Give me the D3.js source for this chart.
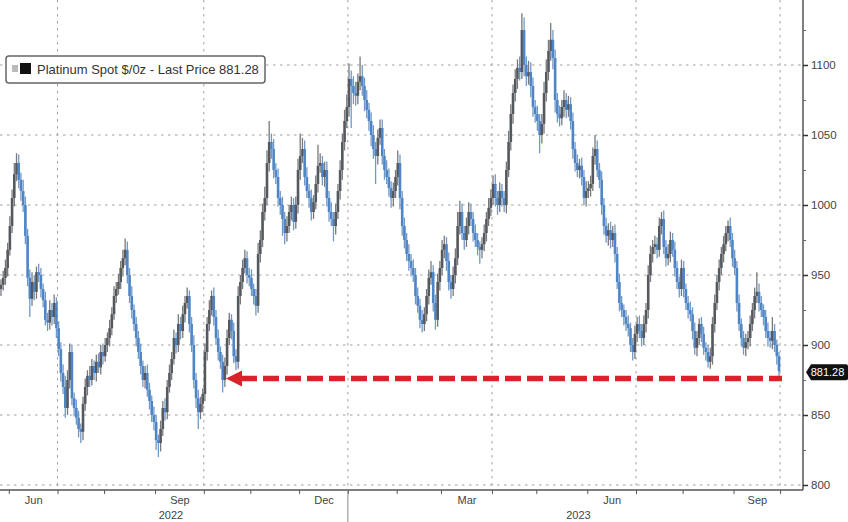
<!DOCTYPE html>
<html>
<head>
<meta charset="utf-8">
<script src="https://cdn.jsdelivr.net/npm/d3@7"></script>
<style>
  html, body { margin: 0; padding: 0; background: #fff; }
  svg { display: block; font-family: "Liberation Sans", Arial, sans-serif; }
</style>
</head>
<body>
<svg id="chart" width="848" height="522"></svg>
<script>
// ---------------- DATA ----------------
const seriesName = "Platinum Spot $/0z - Last Price 881.28";
const lastPrice = 881.28;
const firstOpen = 940;
const markerLevel = 876;          // red dashed arrow level
const markerStart = new Date(2022, 9, 17);
const startDate = new Date(2022, 4, 26);
const endDate = new Date(2023, 8, 29);

// daily closes, trading days from 26 May 2022 to 29 Sep 2023
const closes = [
  943, 948,
  955, 968, 985, 1005, 1022,
  1030, 1018, 1010, 1000, 978,
  948, 933, 945, 938, 952,
  950, 940, 932, 918, 916,
  925, 920, 930, 912, 897,
  880, 870, 855, 875, 895,
  862, 855, 848, 840, 838,
  858, 870, 878, 875, 885,
  880, 888, 884, 895, 892,
  900, 905, 912, 922, 935,
  940, 945, 955, 962, 968,
  950, 935, 925, 915, 905,
  895, 885, 875, 880, 868,
  860, 850, 845, 832, 830,
  840, 855, 852, 870, 880,
  890, 905, 900, 915, 910,
  922, 930, 935, 915, 900,
  875, 862, 852, 858, 865,
  895, 915, 925, 935, 920,
  905, 895, 888, 875, 885,
  905, 918, 910, 892, 888,
  935, 945, 955, 962, 950,
  948, 940, 935, 928, 965,
  975, 995, 1005, 1030, 1045,
  1040, 1025, 1020, 1005, 1000,
  990, 980, 985, 995, 1000,
  988, 1000, 1025, 1035, 1040,
  1020, 1010, 1005, 995, 1002,
  1015, 1028, 1030, 1020, 1025,
  1005, 995, 990, 985, 995,
  1010, 1025, 1045, 1060, 1070,
  1090, 1085, 1080, 1078, 1088,
  1092, 1085, 1075, 1068, 1060,
  1050, 1040, 1035, 1048, 1055,
  1035, 1025, 1020, 1012, 1005,
  1010, 1020, 1030, 1005, 985,
  975, 965, 960, 955, 950,
  935, 928, 918, 915, 922,
  935, 948, 952, 930, 918,
  945, 955, 968, 972, 960,
  945, 940, 950, 962, 985,
  995, 980, 975, 985, 995,
  990, 980, 975, 970, 968,
  972, 980, 990, 998, 1005,
  1015, 1005, 1000, 1010, 1005,
  1000, 1025, 1045, 1065, 1080,
  1090, 1098, 1095, 1125, 1100,
  1092, 1095, 1085, 1070, 1065,
  1060, 1050, 1058, 1080, 1095,
  1110, 1118, 1105, 1075, 1065,
  1062, 1070, 1075, 1068, 1072,
  1060, 1040, 1030, 1025, 1028,
  1020, 1005, 1010, 1012, 1015,
  1035, 1040, 1025, 1018, 1000,
  985, 978, 982, 975, 980,
  965, 945, 930, 925, 920,
  915, 912, 900, 895, 908,
  915, 910, 905, 915, 925,
  950, 965, 970, 972, 968,
  985, 990, 970, 962, 965,
  975, 968, 955, 945, 940,
  955, 940, 930, 925, 922,
  910, 898, 905, 915, 908,
  898, 895, 888, 892, 915,
  930, 945, 955, 965, 972,
  980, 985, 975, 962, 955,
  930, 915, 905, 898, 902,
  905, 915, 925, 935, 938,
  930, 925, 920, 910, 905,
  903, 910, 900, 892, 881.28
];

// wick extension above the body ($)
const upWick = [
  4, 5,
  6, 5, 7, 6, 8,   7, 6, 5, 8, 6,   5, 6, 7, 5, 4,   6, 5, 4, 6, 5,   7, 5, 6, 4, 5,
  5, 6, 8, 7, 6,   5, 4, 6, 5, 4,   5, 6, 4, 7, 5,   4, 5, 6, 5, 6,   5, 4, 6, 5, 7,
  5, 6, 5, 6, 8,   6, 5, 7, 4, 5,   5, 6, 4, 5, 6,   5, 4, 6, 5, 4,   6, 5, 7, 5, 6,
  5, 6, 4, 7, 5,   6, 5, 6, 4, 5,   7, 5, 6, 5, 4,   6, 5, 7, 4, 6,   5, 6, 4, 5, 6,
  6, 5, 4, 6, 5,   7, 5, 6, 6, 5,   5, 6, 4, 5, 8,   7, 6, 8, 9, 15,  6, 7, 5, 6, 5,
  6, 5, 7, 5, 6,   5, 6, 8, 16, 8,  6, 7, 5, 6, 5,   6, 15, 7, 5, 6,  6, 5, 7, 5, 6,
  5, 7, 6, 8, 9,   11, 6, 7, 8, 6,  14, 8, 6, 7, 5,  6, 7, 5, 6, 6,   6, 5, 7, 6, 5,
  6, 5, 9, 6, 5,   6, 5, 7, 5, 6,   5, 6, 5, 7, 5,   5, 6, 8, 5, 6,   6, 5, 7, 6, 5,
  6, 5, 6, 7, 10,  8, 6, 5, 6, 7,   6, 5, 6, 5, 4,   5, 6, 5, 7, 6,   6, 7, 5, 6, 5,
  5, 6, 8, 7, 6,   7, 6, 8, 12, 9,  6, 8, 7, 6, 5,   6, 5, 7, 8, 9,   8, 12, 7, 6, 5,
  6, 5, 7, 5, 6,   5, 6, 5, 6, 5,   6, 5, 7, 5, 6,   6, 10, 6, 5, 6,  5, 6, 5, 6, 5,
  6, 5, 6, 5, 4,   5, 6, 4, 5, 6,   5, 6, 5, 6, 5,   7, 6, 5, 6, 5,   6, 5, 6, 5, 7,
  6, 5, 6, 5, 4,   6, 5, 4, 5, 6,   5, 6, 5, 4, 5,   5, 4, 5, 6, 5,   6, 5, 6, 5, 6,
  5, 4, 6, 5, 6,   5, 6, 4, 5, 6,   5, 6, 5, 6, 14,  6, 5, 4, 5, 6,   5, 10, 5, 4, 3
];

// wick extension below the body ($)
const dnWick = [
  5, 4,
  5, 6, 4, 5, 6,   5, 6, 7, 5, 6,   6, 13, 5, 6, 5,  5, 6, 5, 4, 6,   5, 6, 5, 7, 5,
  6, 5, 7, 5, 6,   5, 6, 5, 6, 8,   6, 5, 6, 5, 4,   5, 6, 4, 5, 6,   4, 5, 6, 5, 4,
  5, 4, 5, 6, 5,   6, 5, 6, 5, 6,   5, 6, 5, 6, 5,   6, 5, 6, 7, 10,  6, 5, 6, 5, 4,
  5, 4, 6, 5, 6,   5, 6, 4, 6, 5,   6, 7, 12, 5, 6,  5, 6, 5, 4, 6,   5, 6, 5, 9, 5,
  6, 5, 6, 5, 6,   5, 6, 5, 4, 6,   6, 5, 6, 7, 5,   6, 5, 6, 5, 6,   7, 6, 5, 6, 7,
  12, 8, 6, 5, 6,  6, 5, 6, 7, 5,   6, 5, 7, 6, 5,   5, 6, 5, 6, 7,   6, 7, 5, 11, 6,
  5, 6, 7, 6, 5,   7, 30, 8, 7, 6,  6, 7, 8, 6, 7,   8, 7, 20, 6, 5,  6, 7, 5, 6, 7,
  6, 5, 6, 8, 7,   6, 5, 7, 6, 5,   6, 5, 6, 6, 5,   5, 6, 5, 6, 7,   5, 6, 5, 6, 7,
  6, 7, 5, 6, 5,   6, 5, 7, 5, 6,   5, 6, 5, 6, 10,  6, 5, 6, 5, 6,   5, 6, 7, 5, 6,
  5, 6, 5, 6, 7,   6, 7, 6, 5, 8,   7, 6, 8, 7, 6,   7, 13, 6, 7, 6,  6, 7, 8, 9, 6,
  6, 5, 7, 6, 5,   6, 7, 6, 5, 6,   6, 5, 6, 5, 6,   5, 6, 5, 6, 7,   6, 5, 7, 6, 5,
  6, 5, 6, 5, 6,   5, 6, 5, 6, 5,   6, 5, 6, 5, 6,   6, 5, 6, 5, 6,   5, 6, 5, 6, 5,
  6, 5, 6, 5, 6,   5, 6, 5, 6, 5,   6, 5, 6, 5, 6,   5, 6, 4, 5, 6,   6, 5, 6, 5, 6,
  5, 6, 5, 6, 5,   6, 5, 6, 5, 6,   5, 6, 5, 6, 5,   6, 5, 6, 5, 6,   5, 6, 5, 6, 5
];

const yTicks = [800, 850, 900, 950, 1000, 1050, 1100];
const yMinorTicks = [825, 875, 925, 975, 1025, 1075, 1125];
const monthLabels = ["Jun", "Sep", "Dec", "Mar", "Jun", "Sep"];
const labelledMonths = [new Date(2022,5,1), new Date(2022,8,1), new Date(2022,11,1),
                        new Date(2023,2,1), new Date(2023,5,1), new Date(2023,8,1)];
const yearLabels = ["2022", "2023"];

// ---------------- LAYOUT ----------------
const W = 848, H = 522;
const axisX = 803, axisY = 490;
const svg = d3.select("#chart");

// trading days (weekdays) — positions on a trading-day index scale
const tradingDays = d3.timeDay.range(startDate, new Date(2023, 9, 20))
  .filter(d => d.getDay() !== 0 && d.getDay() !== 6);
const n = closes.length;
const x = d3.scaleLinear().domain([0, n - 1]).range([1, 779]);
const xDate = d => x(d3.bisectLeft(tradingDays, d) - 0.5);
const y = d3.scaleLinear().domain([800, 1100]).range([485, 65]);

// ---------------- GRID ----------------
const grid = svg.append("g");
grid.selectAll("line.h").data(yTicks).join("line")
  .attr("x1", 0).attr("x2", axisX)
  .attr("y1", d => y(d)).attr("y2", d => y(d))
  .attr("stroke", "#a0a0a0").attr("stroke-width", 1)
  .attr("stroke-dasharray", "2.5,4.5");

const monthStarts = d3.timeMonth.range(new Date(2022,5,1), new Date(2023,10,1));
const quarterStarts = monthStarts.filter(d => d.getMonth() % 3 === 0);
grid.selectAll("line.v").data(quarterStarts).join("line")
  .attr("x1", d => xDate(d)).attr("x2", d => xDate(d))
  .attr("y1", 0).attr("y2", axisY)
  .attr("stroke", "#a0a0a0").attr("stroke-width", 1)
  .attr("stroke-dasharray", "2.5,4.5");

// ---------------- CANDLES ----------------
const bars = closes.map((c, i) => {
  const o = i === 0 ? firstOpen : closes[i - 1];
  return { i, o, c, h: Math.max(o, c) + upWick[i], l: Math.min(o, c) - dnWick[i] };
});
const colUp = "#55585d", colDn = "#4d85c6";
const cg = svg.append("g");
cg.selectAll("line.wick").data(bars).join("line")
  .attr("x1", d => x(d.i)).attr("x2", d => x(d.i))
  .attr("y1", d => y(d.h)).attr("y2", d => y(d.l))
  .attr("stroke", d => d.c >= d.o ? "#77797d" : "#7199c6")
  .attr("stroke-width", 1.3);
cg.selectAll("rect.body").data(bars).join("rect")
  .attr("x", d => x(d.i) - 1.3).attr("width", 2.6)
  .attr("y", d => y(Math.max(d.o, d.c)))
  .attr("height", d => Math.max(1, Math.abs(y(d.o) - y(d.c))))
  .attr("fill", d => d.c >= d.o ? colUp : colDn);

// ---------------- RED ARROW ----------------
const ax0 = xDate(markerStart), ay = y(markerLevel), ax1 = x(n - 1) + 3;
svg.append("line")
  .attr("x1", ax0 + 15).attr("x2", ax1)
  .attr("y1", ay).attr("y2", ay)
  .attr("stroke", "#d8232a").attr("stroke-width", 5.5)
  .attr("stroke-dasharray", "16,6");
svg.append("path")
  .attr("d", `M${ax0},${ay} L${ax0 + 16},${ay - 8} L${ax0 + 16},${ay + 8} Z`)
  .attr("fill", "#d8232a");

// ---------------- RIGHT AXIS ----------------
svg.append("line").attr("x1", axisX).attr("x2", axisX).attr("y1", 0).attr("y2", axisY)
  .attr("stroke", "#555").attr("stroke-width", 1.5);
const yAxis = svg.append("g").attr("transform", `translate(${axisX},0)`)
  .call(d3.axisRight(y).tickValues(yTicks).tickSize(5).tickPadding(3).tickFormat(d3.format("d")));
yAxis.select(".domain").remove();
yAxis.selectAll(".tick line").attr("stroke", "#333").attr("stroke-width", 1.5);
yAxis.selectAll(".tick text").attr("fill", "#444").style("font-size", "11.5px")
  .style("font-family", "'Liberation Sans', Arial, sans-serif");
const yMinor = svg.append("g").attr("transform", `translate(${axisX},0)`)
  .call(d3.axisRight(y).tickValues(yMinorTicks).tickSize(3).tickFormat(""));
yMinor.select(".domain").remove();
yMinor.selectAll(".tick line").attr("stroke", "#666");

// last price tag
const ly = y(lastPrice) + 1;
svg.append("path")
  .attr("d", `M${axisX + 3},${ly} L${axisX + 8},${ly - 8} L${W - 2},${ly - 8} Q${W},${ly - 8} ${W},${ly - 6} L${W},${ly + 6} Q${W},${ly + 8} ${W - 2},${ly + 8} L${axisX + 8},${ly + 8} Z`)
  .attr("fill", "#111");
svg.append("text").attr("x", axisX + 24.5).attr("y", ly + 4)
  .attr("text-anchor", "middle").attr("fill", "#fff")
  .style("font-size", "11px").text(d3.format(".2f")(lastPrice));

// ---------------- BOTTOM AXIS ----------------
svg.append("line").attr("x1", 0).attr("x2", axisX).attr("y1", axisY).attr("y2", axisY)
  .attr("stroke", "#555").attr("stroke-width", 1.5);
const tickIdx = monthStarts.map(d => d3.bisectLeft(tradingDays, d) - 0.5);
const xAxis = svg.append("g").attr("transform", `translate(0,${axisY})`)
  .call(d3.axisBottom(x).tickValues(tickIdx).tickSize(4).tickFormat(""));
xAxis.select(".domain").remove();
xAxis.selectAll(".tick line").attr("stroke", "#555");

const labelIdx = labelledMonths.map(d => {
  const a = d3.bisectLeft(tradingDays, d) - 0.5;
  const b = d3.bisectLeft(tradingDays, d3.timeMonth.offset(d, 1)) - 0.5;
  return (a + b) / 2;
});
const xLab = svg.append("g").attr("transform", `translate(0,${axisY})`)
  .call(d3.axisBottom(x).tickValues(labelIdx).tickSize(0).tickPadding(6)
        .tickFormat((d, i) => monthLabels[i]));
xLab.select(".domain").remove();
xLab.selectAll(".tick text").attr("fill", "#444").style("font-size", "11px")
  .style("font-family", "'Liberation Sans', Arial, sans-serif");

// year separator and labels
const xJan = xDate(new Date(2023, 0, 1));
svg.append("line").attr("x1", xJan).attr("x2", xJan).attr("y1", axisY).attr("y2", H)
  .attr("stroke", "#888").attr("stroke-width", 1);
const yearCenters = [(0 + xJan) / 2 - 3, (xJan + axisX) / 2 + 3];
svg.selectAll("text.year").data(yearLabels).join("text")
  .attr("x", (d, i) => yearCenters[i]).attr("y", 519)
  .attr("text-anchor", "middle").attr("fill", "#444")
  .style("font-size", "11px").text(d => d);

// ---------------- LEGEND ----------------
const lg = svg.append("g");
lg.append("rect").attr("x", 6).attr("y", 56).attr("width", 259).attr("height", 27)
  .attr("rx", 3).attr("fill", "#fff").attr("stroke", "#666").attr("stroke-width", 1.5);
lg.append("rect").attr("x", 12).attr("y", 65).attr("width", 6).attr("height", 7).attr("fill", "#bbb");
lg.append("rect").attr("x", 20).attr("y", 63).attr("width", 11).attr("height", 11).attr("fill", "#111");
lg.append("text").attr("x", 37).attr("y", 74).attr("fill", "#333")
  .style("font-size", "13px").text(seriesName);
</script>
</body>
</html>
